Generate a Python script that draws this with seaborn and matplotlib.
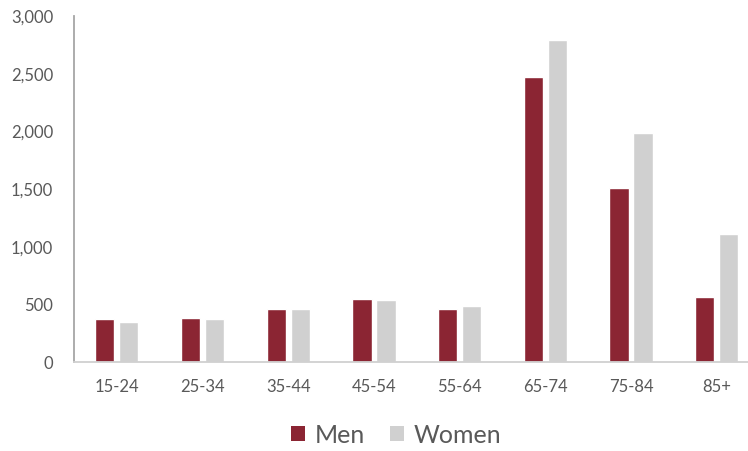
import matplotlib
matplotlib.use("Agg")
import matplotlib.pyplot as plt
import seaborn as sns
import pandas as pd
from matplotlib.ticker import FuncFormatter, MultipleLocator
from matplotlib.patches import Patch

age_groups = ["15-24", "25-34", "35-44", "45-54", "55-64", "65-74", "75-84", "85+"]
men = [370, 379, 460, 549, 460, 2471, 1506, 561]
women = [350, 370, 460, 540, 486, 2792, 1988, 1107]
series = ["Men", "Women"]
colors = {"Men": "#8B2533", "Women": "#D0D0D0"}

df = pd.DataFrame({
    "age": age_groups * 2,
    "value": men + women,
    "sex": ["Men"] * len(men) + ["Women"] * len(women),
})

sns.set_theme(style="white")
plt.rcParams["font.family"] = ["Lato", "DejaVu Sans"]
text_color = "#595959"

fig = plt.figure(figsize=(7.48, 4.51), dpi=100)
ax = fig.add_axes([0.0989, 0.1973, 0.9166, 0.7672])

sns.barplot(data=df, x="age", y="value", hue="sex", order=age_groups,
            hue_order=series, palette=colors, width=0.56, gap=0.2,
            saturation=1, ax=ax, legend=False)

ax.set_ylim(0, 3000)
ax.set_xlim(-0.5, len(age_groups) - 0.5)
ax.yaxis.set_major_locator(MultipleLocator(500))
ax.yaxis.set_major_formatter(FuncFormatter(lambda v, p: f"{int(v):,}"))
ax.set_xlabel("")
ax.set_ylabel("")

for side in ["top", "right"]:
    ax.spines[side].set_visible(False)
ax.spines["left"].set_color("#A6A6A6")
ax.spines["bottom"].set_color("#D0D0D0")
for side in ["left", "bottom"]:
    ax.spines[side].set_linewidth(1.3)

ax.tick_params(axis="both", length=0, colors=text_color, labelsize=12)
ax.tick_params(axis="y", pad=15)
ax.tick_params(axis="x", pad=12)

handles = [Patch(facecolor=colors[s], edgecolor="none", label=s) for s in series]
fig.legend(handles=handles, loc="center", bbox_to_anchor=(0.53, 0.035),
           ncol=2, frameon=False, fontsize=18, labelcolor=text_color,
           handlelength=0.55, handleheight=0.55, handletextpad=0.4,
           columnspacing=1.0)

fig.savefig("out.png", dpi=100)
